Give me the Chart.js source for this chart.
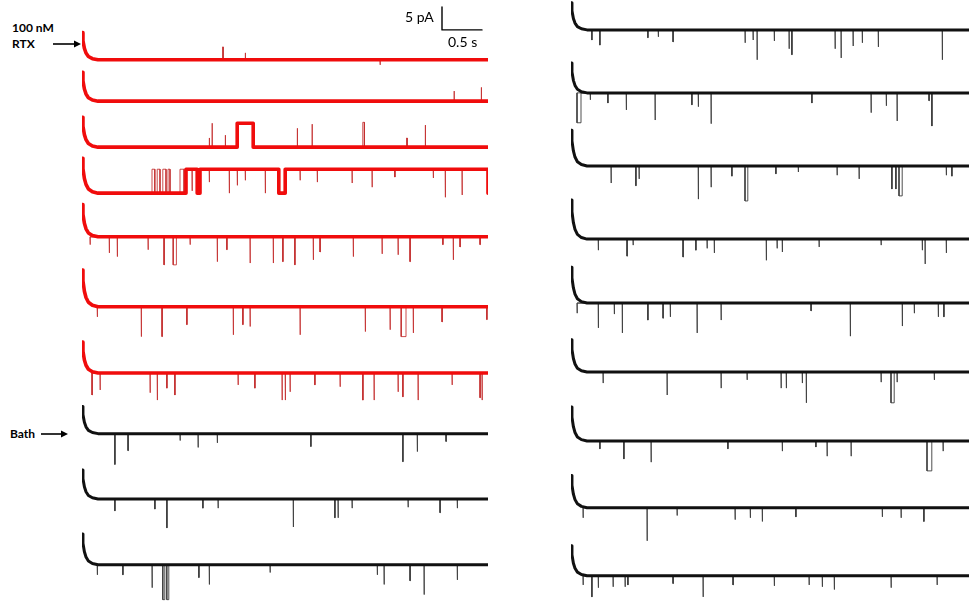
<!DOCTYPE html>
<html>
<head>
<meta charset="utf-8">
<script src="https://cdn.jsdelivr.net/npm/chart.js@4.4.0/dist/chart.umd.min.js"></script>
<style>
  html, body { margin: 0; padding: 0; background: #fff; overflow: hidden; }
  #page { position: relative; width: 969px; height: 607px; }
  canvas { position: absolute; top: 0; }
  #leftCol { left: 82px; }
  #rightCol { left: 571px; }
  .lbl { position: absolute; font-family: Lato, "Open Sans", sans-serif; color: #000; white-space: nowrap; }
  .bold { font-weight: bold; font-size: 12px; }
  .scale { font-size: 14px; }
  svg.arrow { position: absolute; overflow: visible; }
</style>
</head>
<body>
<div id="page">
  <canvas id="leftCol" width="406" height="607"></canvas>
  <canvas id="rightCol" width="410" height="607"></canvas>

  <div class="lbl bold" style="left:12px; top:20px;">100 nM</div>
  <div class="lbl bold" style="left:12px; top:36px;">RTX</div>
  <svg class="arrow" style="left:53px; top:44px;" width="28" height="1">
    <line x1="0" y1="0" x2="22" y2="0" stroke="#000" stroke-width="1.6"/>
    <polygon points="21,-3.5 28,0 21,3.5" fill="#000"/>
  </svg>

  <div class="lbl bold" style="left:10px; top:426px;">Bath</div>
  <svg class="arrow" style="left:41px; top:434px;" width="28" height="1">
    <line x1="0" y1="0" x2="21" y2="0" stroke="#000" stroke-width="1.6"/>
    <polygon points="20,-3.5 27,0 20,3.5" fill="#000"/>
  </svg>

  <div class="lbl scale" style="left:405px; top:8px;">5 pA</div>
  <div class="lbl scale" style="left:448px; top:33px;">0.5 s</div>
</div>

<script>
// time in s, current in pA; spikes are [t, level], steps are [start, end, level]
// levels are relative to each sweep's baseline (closed level)

// capacitive transient height at the start of each sweep (pA)
const leftOnset = [5.9, 6.3, 6.5, 7.6, 7.0, 8.0, 6.7, 5.9, 6.3, 6.7];
const rightOnset = [5.9, 6.5, 7.8, 8.5, 7.8, 7.0, 7.4, 7.0, 6.5];

// fraction of the transient left over after t seconds
const decayShape = [[0, 1], [0.012, 0.7], [0.03, 0.42], [0.05, 0.25], [0.08, 0.12], [0.13, 0.04], [0.2, 0]];

// 100 nM RTX sweeps
const left1Spikes = [[1.76, 2.8], [2.04, 1.5], [3.725, -1.1]];
const left1Steps = [];
const left2Spikes = [[4.65, 2.2], [4.99, 3.0]];
const left2Steps = [];
const left3Spikes = [[1.59, 2.0], [1.625, 5.2], [1.79, 2.6], [2.69, 4.1], [2.875, 5.0], [4.06, 2.0], [4.29, 4.8]];
const left3Steps = [[1.94, 2.14, 5.2], [3.51, 3.53, 5.4]];
const left4Spikes = [[1.375, 0.5], [1.59, 2.4], [1.84, 0], [1.94, 1.7], [2.04, 2.8], [2.29, 0], [2.725, 2.8],
  [2.94, 2.4], [3.375, 2.2], [3.625, 1.3], [3.91, 3.5], [4.39, 3.3], [4.54, -0.9], [4.75, -0.4]];
const left4Steps = [[0.875, 0.91, 5.2], [0.94, 0.975, 5.2], [1.01, 1.05, 5.2], [1.075, 1.1, 5.2],
  [1.225, 1.275, 5.2], [1.3, 1.44, 5.2], [1.475, 2.46, 5.2], [2.54, 5.075, 5.2]];
const left5Spikes = [[0.1, -1.7], [0.34, -3.5], [0.44, -4.3], [0.825, -2.8], [1.025, -6.1], [1.35, -1.7],
  [1.69, -5.4], [1.81, -2.8], [2.1, -5.7], [2.39, -5.7], [2.51, -5.4], [2.66, -6.1], [2.89, -5.0],
  [2.975, -3.3], [3.39, -4.3], [3.75, -3.7], [3.95, -3.9], [4.1, -5.4], [4.51, -1.7], [4.64, -5.0],
  [4.725, -2.2], [4.975, -1.7]];
const left5Steps = [[1.14, 1.18, -6.1]];
const left6Spikes = [[0.19, -2.2], [0.74, -6.5], [1.0, -6.5], [1.31, -3.9], [1.89, -6.1], [2.01, -3.9],
  [2.1, -4.3], [2.725, -6.1], [3.54, -5.4], [3.85, -5.0], [4.14, -5.7], [4.5, -3.3], [5.06, -2.8]];
const left6Steps = [[3.99, 4.05, -6.5]];
const left7Spikes = [[0.125, -4.8], [0.225, -3.7], [0.85, -4.3], [0.94, -5.9], [1.06, -3.3], [1.16, -4.8],
  [1.95, -2.6], [2.16, -3.3], [2.5, -5.9], [2.54, -5.9], [2.6, -4.1], [2.91, -2.6], [3.225, -3.0],
  [3.51, -5.9], [3.65, -5.9], [3.95, -4.1], [4.01, -5.2], [4.2, -5.9], [4.625, -2.6], [4.975, -5.4], [5.0, -5.9]];
const left7Steps = [];

// bath sweeps
const left8Spikes = [[0.41, -6.7], [0.575, -3.7], [1.225, -1.5], [1.45, -3.0], [1.69, -2.0], [2.86, -2.8],
  [4.01, -6.1], [4.19, -3.9], [4.55, -1.7]];
const left8Steps = [];
const left9Spikes = [[0.41, -2.6], [0.91, -2.2], [1.06, -6.3], [1.51, -2.0], [1.7, -2.0], [2.64, -6.1],
  [3.16, -4.1], [3.2, -4.1], [3.375, -2.0], [4.075, -1.8], [4.475, -3.0], [4.69, -2.0]];
const left9Steps = [];
const left10Spikes = [[0.19, -2.2], [0.51, -2.2], [0.875, -5.0], [1.46, -2.8], [1.59, -4.3], [2.35, -1.7],
  [3.69, -2.2], [3.775, -4.3], [4.1, -3.5], [4.275, -6.5], [4.69, -3.3]];
const left10Steps = [[1.01, 1.035, -7.6], [1.06, 1.085, -7.6]];

// second column
const right1Spikes = [[0.26, -2.2], [0.36, -3.3], [0.96, -1.7], [1.09, -1.5], [1.275, -2.6], [2.175, -2.8],
  [2.275, -2.2], [2.325, -6.5], [2.54, -2.4], [2.725, -4.1], [2.76, -5.4], [3.3, -4.1], [3.375, -6.1],
  [3.525, -3.5], [3.64, -2.8], [3.84, -3.7], [4.64, -6.5]];
const right1Steps = [];
const right2Spikes = [[0.24, -1.5], [0.46, -2.2], [0.69, -3.7], [1.05, -5.9], [1.51, -2.6], [1.59, -3.0],
  [1.75, -6.7], [3.01, -2.2], [3.75, -4.3], [3.94, -2.8], [4.075, -6.1], [4.475, -1.7], [4.51, -7.2]];
const right2Steps = [[0.075, 0.125, -6.5]];
const right3Spikes = [[0.5, -3.7], [0.81, -4.3], [0.85, -2.8], [1.59, -7.2], [1.75, -4.6], [2.01, -2.2],
  [2.56, -1.7], [2.84, -1.3], [3.325, -2.0], [3.6, -2.8], [4.01, -5.0], [4.06, -5.0], [4.69, -2.0], [4.76, -2.2]];
const right3Steps = [[2.175, 2.21, -7.6], [4.1, 4.14, -6.5]];
const right4Spikes = [[0.34, -2.4], [0.7, -3.7], [0.775, -1.3], [1.4, -3.9], [1.56, -2.4], [1.7, -2.0],
  [1.79, -3.0], [2.44, -4.6], [2.575, -2.0], [2.64, -2.8], [3.1, -1.7], [3.875, -1.3], [4.39, -2.4],
  [4.425, -5.4], [4.69, -3.0]];
const right4Steps = [];
const right5Spikes = [[0.075, -2.2], [0.34, -5.4], [0.54, -2.4], [0.64, -6.5], [0.96, -3.7], [1.15, -3.3],
  [1.24, -3.0], [1.575, -6.5], [1.875, -3.7], [3.0, -1.7], [3.49, -7.2], [4.14, -5.0], [4.29, -2.2],
  [4.59, -3.0], [4.66, -3.0]];
const right5Steps = [];
const right6Spikes = [[0.4, -2.4], [1.2, -5.0], [1.875, -3.5], [2.2, -1.7], [2.625, -3.5], [2.69, -3.5],
  [2.89, -2.4], [2.94, -6.7], [3.875, -2.2], [4.075, -2.2], [4.54, -1.7]];
const right6Steps = [[4.0, 4.04, -6.7]];
const right7Spikes = [[0.36, -1.7], [0.66, -3.9], [1.0, -4.6], [1.96, -1.7], [2.64, -2.2], [3.06, -1.3],
  [3.2, -3.3], [3.5, -3.3], [4.65, -2.2]];
const right7Steps = [[4.45, 4.51, -6.5]];
const right8Spikes = [[0.15, -2.2], [0.95, -7.2], [1.325, -1.7], [2.05, -2.6], [2.24, -2.2], [2.39, -3.0],
  [2.81, -2.0], [3.89, -2.0], [4.125, -2.2], [4.41, -3.0]];
const right8Steps = [];
const right9Spikes = [[0.15, -2.0], [0.26, -4.6], [0.34, -2.6], [0.525, -2.4], [0.675, -2.4], [0.71, -2.0],
  [1.275, -1.7], [1.65, -4.6], [2.025, -2.0], [2.54, -2.2], [2.975, -2.0], [3.14, -2.4], [3.29, -3.0],
  [4.0, -2.6], [4.575, -2.0]];
const right9Steps = [];

// scale bar
const scaleBarPA = 5;
const scaleBarS = 0.5;

// ---- layout: where each sweep sits (pA below the top edge) ----
const leftRows = [13.0, 22.0, 32.0, 42.0, 51.5, 66.7, 81.1, 94.3, 108.5, 122.8];
const rightRows = [6.5, 20.2, 36.1, 52.0, 65.9, 80.9, 95.9, 110.4, 125.2];
const RED = "rgb(240, 12, 12)";
const RED_THIN = "rgba(195, 45, 45, 0.85)";
const BLACK = "#111";
const BLACK_THIN = "rgba(60, 60, 60, 0.9)";
const SPIKE_W = 0.004;
const SHORT_STEP = 0.1; // brief openings are drawn only with the thin line

function sweepPoints(onset, steps, spikes, offset, tEnd) {
  const pts = decayShape.map(([t, f]) => ({ x: t, y: onset * f }));
  const marks = [];
  steps.forEach(([a, b, lvl]) => {
    marks.push({ t: a, kind: "on", lvl });
    marks.push({ t: b, kind: "off" });
  });
  (spikes || []).forEach(([t, lvl]) => marks.push({ t, kind: "spike", lvl }));
  marks.sort((m, n) => m.t - n.t);
  let cur = 0;
  marks.forEach((m) => {
    if (m.kind === "on") {
      pts.push({ x: m.t, y: cur });
      cur = m.lvl;
      pts.push({ x: m.t, y: cur });
    } else if (m.kind === "off") {
      pts.push({ x: m.t, y: cur });
      cur = 0;
      pts.push({ x: m.t, y: cur });
    } else {
      pts.push({ x: m.t, y: cur }, { x: m.t, y: m.lvl }, { x: m.t + SPIKE_W, y: m.lvl }, { x: m.t + SPIKE_W, y: cur });
    }
  });
  pts.push({ x: tEnd, y: cur });
  return pts.map((p) => ({ x: p.x, y: p.y - offset }));
}

function sweepDatasets(onset, steps, spikes, offset, tEnd, color, thin, band) {
  const longSteps = steps.filter(([a, b]) => b - a >= SHORT_STEP);
  return [
    { data: sweepPoints(onset, longSteps, null, offset, tEnd), borderColor: color, borderWidth: band },
    { data: sweepPoints(onset, steps, spikes, offset, tEnd), borderColor: thin, borderWidth: 1 },
  ];
}

const leftSweeps = [
  [left1Steps, left1Spikes], [left2Steps, left2Spikes], [left3Steps, left3Spikes], [left4Steps, left4Spikes],
  [left5Steps, left5Spikes], [left6Steps, left6Spikes], [left7Steps, left7Spikes],
  [left8Steps, left8Spikes], [left9Steps, left9Spikes], [left10Steps, left10Spikes],
];
const rightSweeps = [
  [right1Steps, right1Spikes], [right2Steps, right2Spikes], [right3Steps, right3Spikes],
  [right4Steps, right4Spikes], [right5Steps, right5Spikes], [right6Steps, right6Spikes],
  [right7Steps, right7Spikes], [right8Steps, right8Spikes], [right9Steps, right9Spikes],
];

const LEFT_END = 5.075;
const RIGHT_END = 5.125;

let leftSets = [];
leftSweeps.forEach(([steps, spikes], i) => {
  const rtx = i < 7;
  leftSets = leftSets.concat(sweepDatasets(leftOnset[i], steps, spikes, leftRows[i], LEFT_END,
    rtx ? RED : BLACK, rtx ? RED_THIN : BLACK_THIN, rtx ? 3.6 : 3));
});
// 5 pA / 0.5 s scale bar
leftSets.push({
  data: [{ x: 4.5, y: -1.5 }, { x: 4.5, y: -1.5 - scaleBarPA }, { x: 4.5 + scaleBarS, y: -1.5 - scaleBarPA }],
  borderColor: "#000", borderWidth: 1.4,
});

let rightSets = [];
rightSweeps.forEach(([steps, spikes], i) => {
  rightSets = rightSets.concat(sweepDatasets(rightOnset[i], steps, spikes, rightRows[i], RIGHT_END,
    BLACK, BLACK_THIN, 3));
});

function makeChart(id, datasets, xMax) {
  return new Chart(document.getElementById(id), {
    type: "line",
    data: { datasets },
    options: {
      responsive: false,
      animation: false,
      devicePixelRatio: 1,
      events: [],
      layout: { padding: 0 },
      elements: { point: { radius: 0 }, line: { tension: 0, borderJoinStyle: "round", borderCapStyle: "round" } },
      plugins: { legend: { display: false }, tooltip: { enabled: false } },
      scales: {
        x: { type: "linear", min: 0, max: xMax, display: false },
        y: { min: -132, max: 0, display: false },
      },
    },
  });
}

makeChart("leftCol", leftSets, LEFT_END);
makeChart("rightCol", rightSets, RIGHT_END);
</script>
</body>
</html>
